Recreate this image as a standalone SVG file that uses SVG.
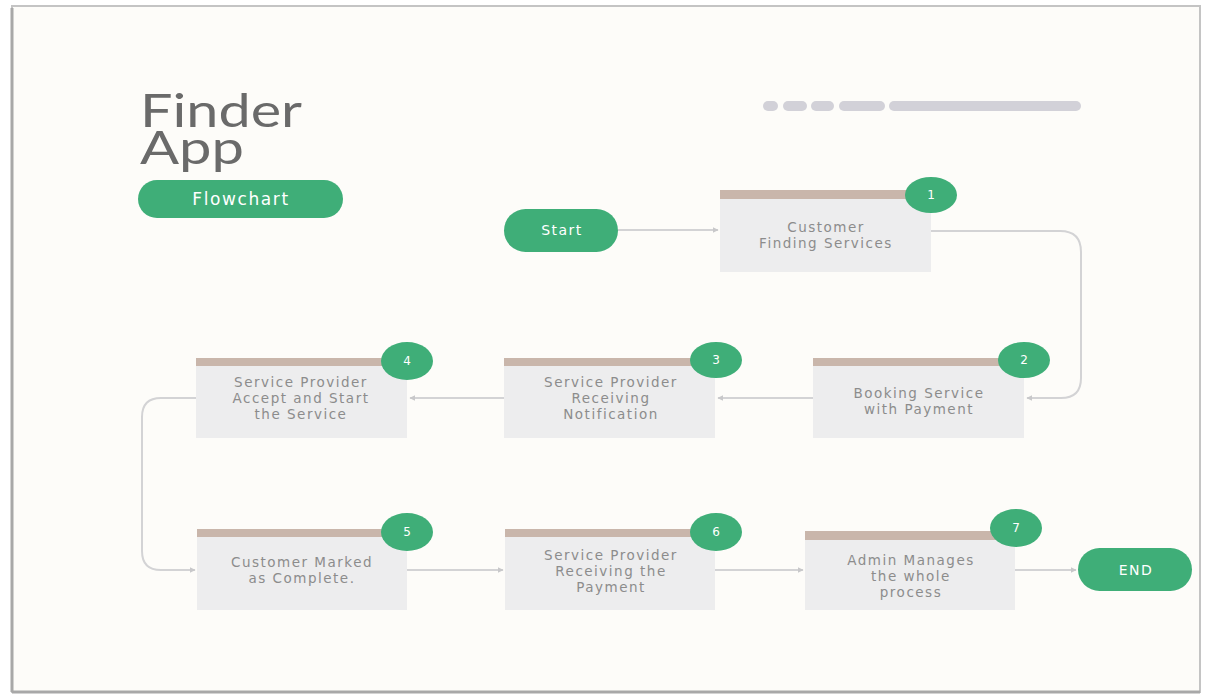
<svg xmlns="http://www.w3.org/2000/svg" width="1207" height="697" viewBox="0 0 1207 697">
<defs>
<style>
.box{fill:#ededee}
.bar{fill:#c9b6ab}
.badge{fill:#3fae78}
.pill{fill:#3fae78}
.lbl{font-family:"DejaVu Sans",sans-serif;font-size:13.5px;fill:#8c8c8c;text-anchor:middle;letter-spacing:1.5px}
.num{font-family:"DejaVu Sans",sans-serif;font-size:12px;fill:#ffffff;text-anchor:middle}
.ptxt{font-family:"DejaVu Sans",sans-serif;font-size:14px;fill:#ffffff;text-anchor:middle;letter-spacing:1.5px}
.conn{fill:none;stroke:#d3d3d5;stroke-width:2}
.gbar{fill:#d2d1d8}
</style>
<marker id="ah" viewBox="0 0 10 10" refX="9" refY="5" markerWidth="6" markerHeight="6" orient="auto" markerUnits="userSpaceOnUse">
<path d="M0,0 L10,5 L0,10 z" fill="#c8c8ca"/>
</marker>
</defs>
<rect x="0" y="0" width="1207" height="697" fill="#ffffff"/>
<rect x="12" y="6" width="1188" height="686" fill="#fdfcf9" stroke="#c4c4c4" stroke-width="2"/>
<line x1="12" y1="8" x2="12" y2="692" stroke="#a8a8a8" stroke-width="3"/>
<line x1="12" y1="692" x2="1200" y2="692" stroke="#a8a8a8" stroke-width="3"/>

<g id="title">
<text x="140" y="127" font-family="Lato, sans-serif" font-size="47" fill="#6a6a6a" textLength="162" lengthAdjust="spacingAndGlyphs">Finder</text>
<text x="140" y="164" font-family="Lato, sans-serif" font-size="47" fill="#6a6a6a" textLength="104" lengthAdjust="spacingAndGlyphs">App</text>
</g>
<g id="flowchart-tag">
<rect x="138" y="180" width="205" height="38" rx="19" class="pill"/>
<text x="241" y="205" font-family="DejaVu Sans, sans-serif" font-size="17" fill="#ffffff" text-anchor="middle" letter-spacing="1.6">Flowchart</text>
</g>
<g id="progress-bars">
<rect x="763" y="101" width="15" height="10" rx="5" class="gbar"/>
<rect x="783" y="101" width="24" height="10" rx="5" class="gbar"/>
<rect x="811" y="101" width="23" height="10" rx="5" class="gbar"/>
<rect x="839" y="101" width="46" height="10" rx="5" class="gbar"/>
<rect x="889" y="101" width="192" height="10" rx="5" class="gbar"/>
</g>

<g id="connectors">
<line x1="618" y1="230" x2="718" y2="230" class="conn" marker-end="url(#ah)"/>
<path d="M930,231 H1060 Q1081,231 1081,252 V378 Q1081,398 1061,398 H1027" class="conn" marker-end="url(#ah)"/>
<line x1="813" y1="398" x2="718" y2="398" class="conn" marker-end="url(#ah)"/>
<line x1="504" y1="398" x2="410" y2="398" class="conn" marker-end="url(#ah)"/>
<path d="M196,398 H161 Q142,398 142,417 V551 Q142,570 161,570 H195" class="conn" marker-end="url(#ah)"/>
<line x1="407" y1="570" x2="503" y2="570" class="conn" marker-end="url(#ah)"/>
<line x1="715" y1="570" x2="803" y2="570" class="conn" marker-end="url(#ah)"/>
<line x1="1015" y1="570" x2="1076" y2="570" class="conn" marker-end="url(#ah)"/>
</g>

<g id="start">
<rect x="504" y="209" width="114" height="43" rx="21.5" class="pill"/>
<text x="562" y="235" class="ptxt">Start</text>
</g>

<g id="step1">
<rect x="720" y="190" width="211" height="82" class="box"/>
<rect x="720" y="190" width="211" height="9" class="bar"/>
<ellipse cx="931" cy="195" rx="26" ry="18" class="badge"/>
<text x="931" y="199" class="num">1</text>
<text x="826" y="232" class="lbl">Customer</text>
<text x="826" y="248" class="lbl">Finding Services</text>
</g>

<g id="step2">
<rect x="813" y="358" width="211" height="80" class="box"/>
<rect x="813" y="358" width="211" height="8" class="bar"/>
<ellipse cx="1024" cy="360" rx="26" ry="18" class="badge"/>
<text x="1024" y="364" class="num">2</text>
<text x="919" y="398" class="lbl">Booking Service</text>
<text x="919" y="414" class="lbl">with Payment</text>
</g>

<g id="step3">
<rect x="504" y="358" width="211" height="80" class="box"/>
<rect x="504" y="358" width="211" height="8" class="bar"/>
<ellipse cx="716" cy="360" rx="26" ry="18" class="badge"/>
<text x="716" y="364" class="num">3</text>
<text x="611" y="387" class="lbl">Service Provider</text>
<text x="611" y="403" class="lbl">Receiving</text>
<text x="611" y="419" class="lbl">Notification</text>
</g>

<g id="step4">
<rect x="196" y="358" width="211" height="80" class="box"/>
<rect x="196" y="358" width="211" height="8" class="bar"/>
<ellipse cx="407" cy="361" rx="26" ry="19" class="badge"/>
<text x="407" y="365" class="num">4</text>
<text x="301" y="387" class="lbl">Service Provider</text>
<text x="301" y="403" class="lbl">Accept and Start</text>
<text x="301" y="419" class="lbl">the Service</text>
</g>

<g id="step5">
<rect x="197" y="529" width="210" height="81" class="box"/>
<rect x="197" y="529" width="210" height="8" class="bar"/>
<ellipse cx="407" cy="532" rx="26" ry="19" class="badge"/>
<text x="407" y="536" class="num">5</text>
<text x="302" y="567" class="lbl">Customer Marked</text>
<text x="302" y="583" class="lbl">as Complete.</text>
</g>

<g id="step6">
<rect x="505" y="529" width="210" height="81" class="box"/>
<rect x="505" y="529" width="210" height="8" class="bar"/>
<ellipse cx="716" cy="532" rx="26" ry="19" class="badge"/>
<text x="716" y="536" class="num">6</text>
<text x="611" y="560" class="lbl">Service Provider</text>
<text x="611" y="576" class="lbl">Receiving the</text>
<text x="611" y="592" class="lbl">Payment</text>
</g>

<g id="step7">
<rect x="805" y="531" width="210" height="79" class="box"/>
<rect x="805" y="531" width="210" height="9" class="bar"/>
<ellipse cx="1016" cy="528" rx="26" ry="19" class="badge"/>
<text x="1016" y="532" class="num">7</text>
<text x="911" y="565" class="lbl">Admin Manages</text>
<text x="911" y="581" class="lbl">the whole</text>
<text x="911" y="597" class="lbl">process</text>
</g>

<g id="end">
<rect x="1078" y="548" width="114" height="43" rx="21.5" class="pill"/>
<text x="1136" y="575" class="ptxt">END</text>
</g>
</svg>
